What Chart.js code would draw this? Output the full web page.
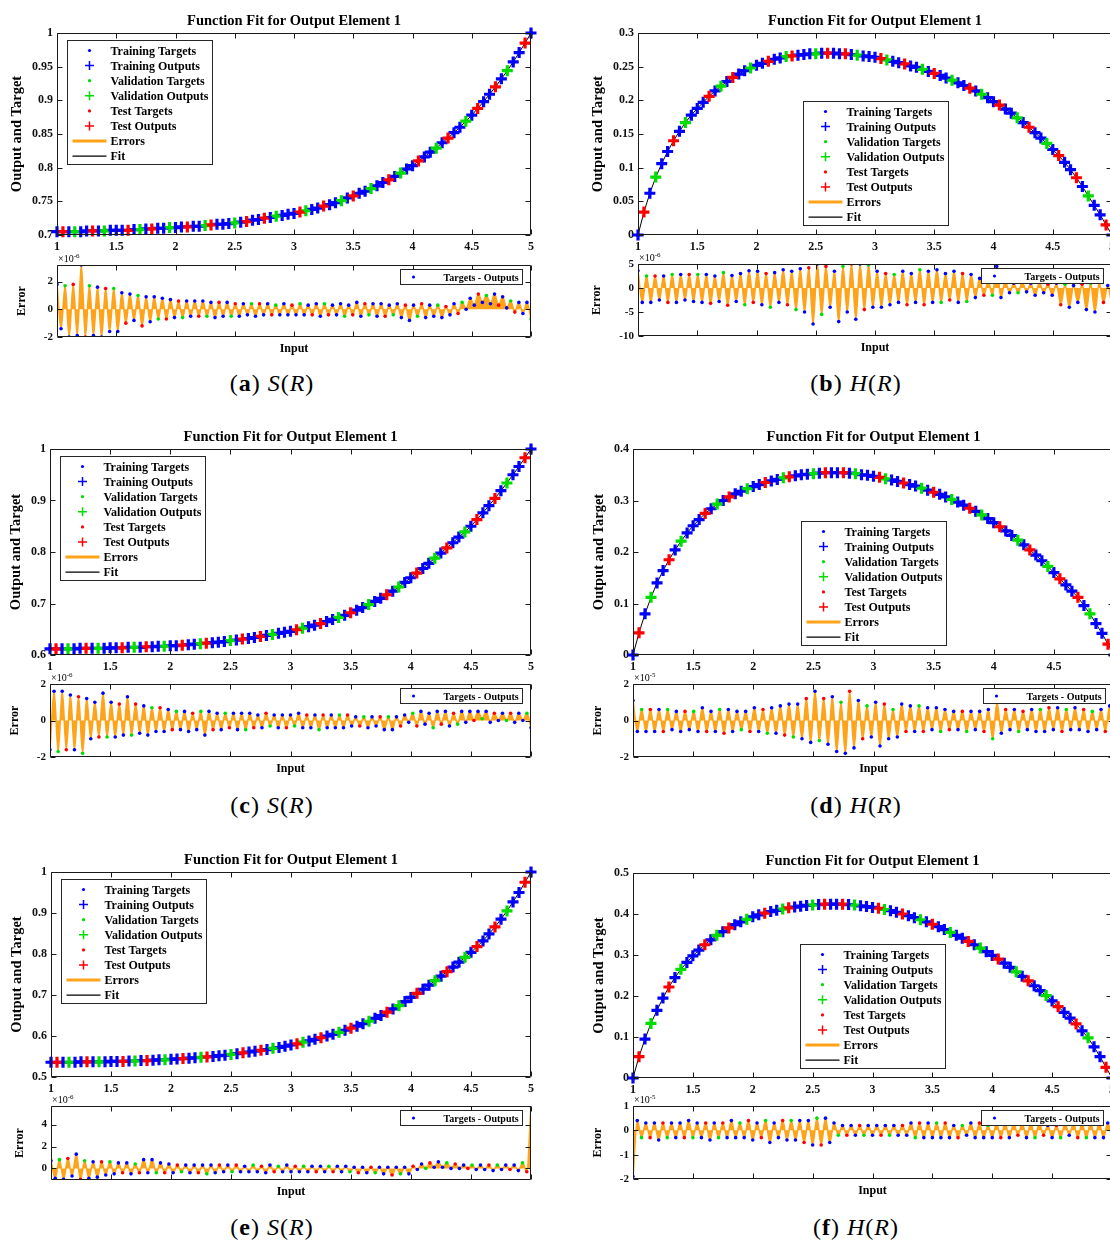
<!DOCTYPE html>
<html lang="en">
<head>
<meta charset="utf-8">
<title>Function Fit for Output Element 1</title>
<script src="https://cdn.jsdelivr.net/npm/chart.js@4.4.1/dist/chart.umd.min.js"></script>
<style>
  html, body { margin: 0; padding: 0; background: #fff; }
  body { position: relative; width: 1110px; height: 1242px; overflow: hidden; }
  canvas { position: absolute; }
  .cap {
    position: absolute; width: 240px; text-align: center;
    font-family: "Liberation Serif", "Times New Roman", serif;
    font-size: 24px; line-height: 30px; letter-spacing: 1px; color: #000;
  }
</style>
</head>
<body>
<script>
// ---------- data ----------
const inputR = [
  1, 1.05, 1.1, 1.15, 1.2, 1.25, 1.3, 1.35, 1.4, 1.45,
  1.5, 1.55, 1.6, 1.65, 1.7, 1.75, 1.8, 1.85, 1.9, 1.95,
  2, 2.05, 2.1, 2.15, 2.2, 2.25, 2.3, 2.35, 2.4, 2.45,
  2.5, 2.55, 2.6, 2.65, 2.7, 2.75, 2.8, 2.85, 2.9, 2.95,
  3, 3.05, 3.1, 3.15, 3.2, 3.25, 3.3, 3.35, 3.4, 3.45,
  3.5, 3.55, 3.6, 3.65, 3.7, 3.75, 3.8, 3.85, 3.9, 3.95,
  4, 4.05, 4.1, 4.15, 4.2, 4.25, 4.3, 4.35, 4.4, 4.45,
  4.5, 4.55, 4.6, 4.65, 4.7, 4.75, 4.8, 4.85, 4.9, 4.95,
  5
];

// T = training, V = validation, S = test
const splitMain = ['TSTVTTSTVT', 'TTSTVTSTTV', 'TTSTTVSTTT', 'VTSTTSTVTT', 'TSVTTSTTVT',
  'STTVTTSTVT', 'TSTTVTSTTV', 'TSTTSTVTTS', 'T'].join('');
const splitErr = 'TTVTSTTSVTTTSTVTTSTTVST';

const sA = [
  0.705, 0.705, 0.705, 0.705, 0.705, 0.706, 0.706, 0.706, 0.706, 0.707,
  0.707, 0.707, 0.707, 0.708, 0.708, 0.709, 0.709, 0.710, 0.710, 0.711,
  0.711, 0.712, 0.712, 0.713, 0.713, 0.714, 0.715, 0.716, 0.716, 0.717,
  0.718, 0.719, 0.720, 0.722, 0.723, 0.725, 0.726, 0.728, 0.729, 0.731,
  0.732, 0.734, 0.736, 0.738, 0.740, 0.743, 0.745, 0.748, 0.751, 0.755,
  0.758, 0.762, 0.765, 0.769, 0.773, 0.778, 0.782, 0.787, 0.792, 0.798,
  0.803, 0.810, 0.816, 0.823, 0.829, 0.837, 0.844, 0.852, 0.860, 0.869,
  0.878, 0.888, 0.898, 0.909, 0.920, 0.932, 0.944, 0.957, 0.971, 0.985,
  1.000
];
const hB = [
  0, 0.034, 0.062, 0.086, 0.106, 0.124, 0.140, 0.154, 0.167, 0.178,
  0.188, 0.197, 0.206, 0.214, 0.221, 0.228, 0.234, 0.239, 0.244, 0.248,
  0.252, 0.255, 0.258, 0.261, 0.263, 0.265, 0.266, 0.267, 0.268, 0.269,
  0.269, 0.270, 0.270, 0.270, 0.269, 0.269, 0.268, 0.267, 0.266, 0.265,
  0.264, 0.262, 0.260, 0.258, 0.256, 0.254, 0.251, 0.249, 0.246, 0.243,
  0.240, 0.237, 0.233, 0.230, 0.226, 0.222, 0.218, 0.214, 0.209, 0.204,
  0.198, 0.193, 0.187, 0.181, 0.174, 0.167, 0.160, 0.152, 0.144, 0.136,
  0.127, 0.118, 0.108, 0.097, 0.085, 0.072, 0.058, 0.044, 0.030, 0.015,
  0
];
const sC = [
  0.612, 0.612, 0.612, 0.612, 0.612, 0.613, 0.613, 0.613, 0.613, 0.613,
  0.614, 0.614, 0.614, 0.615, 0.615, 0.615, 0.616, 0.616, 0.617, 0.617,
  0.618, 0.618, 0.619, 0.620, 0.621, 0.622, 0.623, 0.624, 0.625, 0.626,
  0.628, 0.629, 0.631, 0.632, 0.634, 0.636, 0.638, 0.640, 0.642, 0.644,
  0.646, 0.649, 0.652, 0.655, 0.658, 0.661, 0.665, 0.669, 0.673, 0.677,
  0.682, 0.687, 0.692, 0.698, 0.704, 0.710, 0.717, 0.724, 0.732, 0.741,
  0.750, 0.759, 0.768, 0.778, 0.788, 0.798, 0.808, 0.818, 0.829, 0.839,
  0.850, 0.863, 0.876, 0.890, 0.904, 0.919, 0.934, 0.950, 0.966, 0.983,
  1.000
];
const hD = [
  0, 0.043, 0.080, 0.112, 0.140, 0.164, 0.185, 0.204, 0.221, 0.237,
  0.251, 0.263, 0.275, 0.284, 0.293, 0.300, 0.307, 0.313, 0.318, 0.323,
  0.327, 0.331, 0.335, 0.338, 0.341, 0.344, 0.346, 0.348, 0.350, 0.351,
  0.352, 0.353, 0.354, 0.354, 0.354, 0.354, 0.353, 0.352, 0.350, 0.349,
  0.347, 0.345, 0.342, 0.340, 0.337, 0.334, 0.331, 0.328, 0.324, 0.320,
  0.316, 0.312, 0.307, 0.302, 0.297, 0.291, 0.285, 0.279, 0.272, 0.265,
  0.257, 0.249, 0.241, 0.232, 0.223, 0.214, 0.204, 0.194, 0.183, 0.172,
  0.160, 0.148, 0.136, 0.124, 0.112, 0.096, 0.080, 0.061, 0.042, 0.021,
  0
];
const sE = [
  0.536, 0.536, 0.536, 0.536, 0.536, 0.537, 0.537, 0.537, 0.537, 0.537,
  0.538, 0.538, 0.538, 0.539, 0.539, 0.540, 0.540, 0.541, 0.542, 0.542,
  0.543, 0.544, 0.545, 0.546, 0.547, 0.548, 0.549, 0.550, 0.552, 0.553,
  0.555, 0.557, 0.559, 0.561, 0.563, 0.565, 0.567, 0.570, 0.572, 0.575,
  0.578, 0.581, 0.585, 0.588, 0.592, 0.596, 0.600, 0.604, 0.609, 0.614,
  0.619, 0.624, 0.630, 0.636, 0.643, 0.650, 0.658, 0.666, 0.674, 0.684,
  0.694, 0.704, 0.714, 0.724, 0.735, 0.746, 0.757, 0.768, 0.780, 0.792,
  0.804, 0.818, 0.832, 0.849, 0.866, 0.885, 0.905, 0.927, 0.950, 0.975,
  1.000
];
const hF = [
  0, 0.052, 0.095, 0.133, 0.165, 0.195, 0.222, 0.245, 0.265, 0.282,
  0.298, 0.312, 0.325, 0.337, 0.348, 0.357, 0.366, 0.374, 0.381, 0.387,
  0.393, 0.398, 0.402, 0.406, 0.409, 0.412, 0.415, 0.417, 0.419, 0.421,
  0.422, 0.423, 0.424, 0.424, 0.424, 0.424, 0.423, 0.422, 0.420, 0.418,
  0.416, 0.414, 0.411, 0.408, 0.404, 0.400, 0.396, 0.391, 0.386, 0.381,
  0.375, 0.369, 0.362, 0.355, 0.348, 0.341, 0.333, 0.325, 0.317, 0.308,
  0.299, 0.290, 0.280, 0.270, 0.259, 0.248, 0.237, 0.225, 0.213, 0.201,
  0.188, 0.174, 0.160, 0.146, 0.132, 0.115, 0.098, 0.076, 0.052, 0.026,
  0
];

// error traces: successive peaks / troughs, in units of the axis exponent
const errA = [
  1.8, -1.4, 1.7, -2.0, 1.8, -1.9, 3.2, -2.0, 1.7, -1.9, 1.6, -2.0, 1.5, -1.6, 1.5, -1.6, 1.2, -1.0,
  1.1, -0.8, 1.0, -1.2, 0.9, -0.9, 0.9, -0.7, 0.8, -0.7, 0.7, -0.6, 0.6, -0.6,
  0.6, -0.5, 0.6, -0.5, 0.6, -0.5, 0.5, -0.6, 0.5, -0.5, 0.5, -0.5, 0.4, -0.5,
  0.4, -0.4, 0.4, -0.5, 0.4, -0.4, 0.4, -0.4, 0.3, -0.4, 0.4, -0.4, 0.3, -0.4,
  0.4, -0.4, 0.3, -0.4, 0.4, -0.5, 0.4, -0.4, 0.3, -0.4, 0.4, -0.5, 0.3, -0.4,
  0.5, -0.5, 0.4, -0.4, 0.4, -0.5, 0.4, -0.5, 0.3, -0.4, 0.4, -0.6, 0.3, -0.8,
  0.3, -0.5, 0.4, -0.6, 0.3, -0.5, 0.3, -0.6, 0.2, -0.4, 0.4, -0.3, 0.5, 0.0,
  0.8, 0.3, 1.1, 0.5, 1.0, 0.4, 1.1, 0.3, 0.9, 0.1, 0.6, -0.2, 0.5, -0.3, 0.5, -0.7
];
const errB = [
  3.6, -3.0, 2.5, -3.0, 2.5, -2.5, 2.5, -3.0, 2.8, -3.0, 2.8, -2.5, 2.8, -2.8,
  2.8, -3.0, 2.8, -3.2, 2.5, -2.8, 3.2, -3.6, 2.6, -2.8, 3.0, -3.5, 3.6, -3.0,
  3.5, -3.5, 3.0, -4.0, 3.2, -3.0, 3.8, -3.5, 3.5, -4.5, 4.0, -5.0, 4.2, -7.5,
  5.0, -5.5, 4.5, -4.0, 3.5, -7.0, 4.5, -5.0, 5.0, -6.5, 5.0, -4.5, 4.8, -4.0,
  3.5, -4.0, 3.0, -3.5, 2.8, -3.0, 3.5, -3.5, 3.0, -3.0, 3.8, -3.5, 3.5, -3.0,
  3.8, -3.0, 3.0, -2.5, 3.5, -3.0, 3.0, -2.8, 2.8, -2.0, 2.0, -1.5, 1.5, -1.5,
  4.5, -2.0, 1.5, -1.0, 1.0, -1.0, 1.2, -0.8, 1.0, -1.5, 1.2, -1.0, 0.8, -1.5,
  1.0, -3.5, 0.8, -4.0, 0.5, -3.0, 0.8, -4.5, 1.0, -5.0, 1.2, -3.0, 0.5, -4.0
];
const errC = [
  -1.6, 1.6, -1.7, 1.6, -1.6, 1.4, -1.6, 1.3, -1.8, 1.2, -1.0, 1.0, -0.9, 1.5, -0.9, 1.0, -0.9, 0.9, -0.8,
  1.3, -0.8, 0.9, -0.7, 0.8, -0.8, 0.7, -0.6, 0.7, -0.6, 0.6, -0.5, 0.5, -0.5,
  0.5, -0.6, 0.4, -0.5, 0.5, -0.8, 0.5, -0.5, 0.4, -0.5, 0.4, -0.4, 0.4, -0.5,
  0.4, -0.5, 0.4, -0.4, 0.3, -0.4, 0.4, -0.3, 0.3, -0.4, 0.3, -0.4, 0.3, -0.3,
  0.4, -0.4, 0.3, -0.4, 0.3, -0.5, 0.3, -0.4, 0.3, -0.4, 0.3, -0.4, 0.3, -0.3,
  0.2, -0.3, 0.2, -0.4, 0.2, -0.3, 0.2, -0.5, 0.2, -0.5, 0.2, -0.3, 0.3, -0.1,
  0.4, -0.3, 0.5, -0.2, 0.4, -0.4, 0.5, -0.2, 0.5, -0.3, 0.4, -0.2, 0.5, -0.1,
  0.5, 0.0, 0.5, 0.1, 0.5, -0.1, 0.4, 0.0, 0.4, 0.0, 0.4, -0.1, 0.4, 0.0, 0.4, -0.4
];
const errD = [
  1.1, -0.6, 0.6, -0.6, 0.6, -0.6, 0.6, -0.6, 0.6, -0.5, 0.5, -0.6, 0.5, -0.5,
  0.5, -0.6, 0.7, -0.6, 0.5, -0.6, 0.6, -0.7, 0.6, -0.6, 0.5, -0.5, 0.5, -0.6,
  0.7, -0.6, 0.6, -0.7, 0.7, -0.7, 0.8, -0.8, 0.9, -0.9, 0.9, -1.0, 1.2, -1.2,
  1.6, -1.1, 1.2, -1.3, 1.3, -1.7, 1.0, -1.8, 1.6, -1.5, 1.1, -1.0, 0.8, -0.9,
  1.0, -1.4, 0.9, -1.0, 0.6, -0.9, 0.9, -0.6, 0.8, -0.6, 0.8, -0.6, 0.7, -0.5,
  0.7, -0.6, 0.6, -0.5, 0.5, -0.5, 0.5, -0.6, 0.5, -0.5, 0.5, -0.6, 0.6, -1.0,
  1.0, -0.7, 0.6, -0.5, 0.6, -0.6, 0.5, -0.5, 0.6, -0.6, 0.6, -0.6, 0.7, -0.5,
  0.7, -0.6, 0.6, -0.5, 0.7, -0.5, 0.6, -0.6, 0.5, -0.5, 0.6, -0.6, 0.8, -0.7
];
const errE = [
  0.7, -0.9, 0.8, -1.0, 0.9, -0.7, 1.3, -1.0, 0.7, -0.9, 0.6, -0.8, 0.6, -0.6, 0.6, -0.5,
  0.5, -0.4, 0.5, -0.5, 0.4, -0.4, 0.8, -0.4, 0.8, -0.4, 0.5, -0.4, 0.4, -0.4,
  0.3, -0.3, 0.3, -0.4, 0.3, -0.4, 0.3, -0.5, 0.3, -0.4, 0.3, -0.3, 0.3, -0.3,
  0.3, -0.3, 0.2, -0.3, 0.3, -0.3, 0.2, -0.4, 0.3, -0.3, 0.2, -0.3, 0.3, -0.3,
  0.2, -0.3, 0.2, -0.3, 0.2, -0.3, 0.2, -0.3, 0.2, -0.3, 0.2, -0.3, 0.2, -0.3,
  0.1, -0.4, 0.1, -0.4, 0.1, -0.4, 0.1, -0.5, 0.1, -0.6, 0.1, -0.5, 0.1, -0.5,
  0.2, -0.1, 0.4, 0.0, 0.5, 0.1, 0.6, 0.1, 0.5, 0.0, 0.4, 0.0, 0.3, 0.0,
  0.3, -0.1, 0.3, -0.1, 0.3, -0.2, 0.3, -0.1, 0.3, -0.1, 0.3, -0.2, 0.5, -0.3, 5.7
];
const errF = [
  -1.9,
  0.4, -0.3, 0.3, -0.3, 0.3, -0.4, 0.3, -0.3, 0.3, -0.3, 0.3, -0.3, 0.4, -0.3,
  0.3, -0.3, 0.3, -0.4, 0.3, -0.3, 0.3, -0.3, 0.4, -0.3, 0.3, -0.3, 0.4, -0.4,
  0.3, -0.3, 0.4, -0.5, 0.3, -0.3, 0.4, -0.4, 0.4, -0.4, 0.4, -0.5, 0.4, -0.6,
  0.5, -0.6, 0.5, -0.5, 0.3, -0.2, 0.2, -0.2, 0.2, -0.2, 0.2, -0.2, 0.2, -0.2,
  0.2, -0.2, 0.2, -0.2, 0.2, -0.2, 0.2, -0.2, 0.3, -0.3, 0.3, -0.3, 0.3, -0.3,
  0.3, -0.3, 0.3, -0.3, 0.2, -0.3, 0.2, -0.2, 0.3, -0.3, 0.3, -0.3, 0.2, -0.3,
  0.3, -0.3, 0.3, -0.3, 0.3, -0.2, 0.3, -0.3, 0.3, -0.3, 0.3, -0.2, 0.2, -0.3,
  0.2, -0.3, 0.3, -0.2, 0.3, -0.3, 0.3, -0.3, 0.3, -0.3, 0.3, -0.3, 0.3, -0.3
];

const xTickVals = [1, 1.5, 2, 2.5, 3, 3.5, 4, 4.5, 5];
const yTicksA = [0.7, 0.75, 0.8, 0.85, 0.9, 0.95, 1];
const yTicksB = [0, 0.05, 0.1, 0.15, 0.2, 0.25, 0.3];
const yTicksC = [0.6, 0.7, 0.8, 0.9, 1];
const yTicksD = [0, 0.1, 0.2, 0.3, 0.4];
const yTicksE = [0.5, 0.6, 0.7, 0.8, 0.9, 1];
const yTicksF = [0, 0.1, 0.2, 0.3, 0.4, 0.5];

const errTicksA = [-2, 0, 2];
const errTicksB = [-10, -5, 0, 5];
const errTicksC = [-2, 0, 2];
const errTicksD = [-2, 0, 2];
const errTicksE = [0, 2, 4];
const errTicksF = [-2, -1, 0, 1];
const errLimits = [[-2, 3.2], [-10, 5], [-2, 2], [-2, 2], [-1.06, 5.7], [-2, 1]];
const errExponent = ['-6', '-6', '-6', '-5', '-6', '-5'];

const curves = [sA, hB, sC, hD, sE, hF];
const curveTicks = [yTicksA, yTicksB, yTicksC, yTicksD, yTicksE, yTicksF];
const errSeries = [errA, errB, errC, errD, errE, errF];
const errTicks = [errTicksA, errTicksB, errTicksC, errTicksD, errTicksE, errTicksF];
const capLetter = ['a', 'b', 'c', 'd', 'e', 'f'];
const capFunc = ['S', 'H', 'S', 'H', 'S', 'H'];

// ---------- layout (page pixels: left, top, right, bottom of each plot box) ----------
const mainBoxes = [[57, 33, 531, 235], [638, 33, 1112, 235], [50, 449, 531, 655],
                   [633, 449, 1114, 655], [51, 872, 531, 1077], [633, 873, 1112, 1078]];
const errBoxes = [[57, 265, 531, 337], [638, 264, 1112, 336], [50, 684, 531, 757],
                  [633, 684, 1114, 757], [51, 1106, 531, 1180], [633, 1106, 1112, 1179]];
const legendLoc = ['nw', 's', 'nw', 's', 'nw', 's'];
const capPos = [[272, 383], [856, 383], [272, 805], [856, 805], [272, 1227], [856, 1227]];
const MAIN_M = { l: 50, t: 30, r: 20, b: 24 };
const ERR_M = { l: 50, t: 14, r: 20, b: 24 };

const SERIF = '"Liberation Serif", "Times New Roman", serif';
const ORANGE = '#ffa31a';
const colorOf = { T: '#0000ff', V: '#00dd00', S: '#ff0000' };
const num = v => String(Math.round(v * 1000) / 1000);

// MATLAB-like box, inward ticks, titles and legend
const framePlugin = {
  id: 'frame',
  afterDatasetsDraw(chart, args, o) {
    const { ctx, chartArea: a, scales } = chart;
    const L = Math.round(a.left) + 0.5, T = Math.round(a.top) + 0.5;
    const R = Math.round(a.right) - 0.5, B = Math.round(a.bottom) - 0.5;
    const tl = o.tickLen;
    ctx.save();
    ctx.strokeStyle = '#1a1a1a';
    ctx.lineWidth = 1;
    ctx.beginPath();
    scales.x.ticks.forEach(t => {
      const px = Math.round(scales.x.getPixelForValue(t.value)) + 0.5;
      ctx.moveTo(px, B); ctx.lineTo(px, B - tl);
      ctx.moveTo(px, T); ctx.lineTo(px, T + tl);
    });
    scales.y.ticks.forEach(t => {
      const py = Math.round(scales.y.getPixelForValue(t.value)) + 0.5;
      ctx.moveTo(L, py); ctx.lineTo(L + tl, py);
      ctx.moveTo(R, py); ctx.lineTo(R - tl, py);
    });
    ctx.rect(L, T, R - L, B - T);
    ctx.stroke();
    ctx.restore();
  },
  afterDraw(chart, args, o) {
    const { ctx, chartArea: a, scales } = chart;
    const cx = (a.left + a.right) / 2, cy = (a.top + a.bottom) / 2;
    ctx.save();
    ctx.fillStyle = '#000';
    ctx.textAlign = 'center';
    ctx.textBaseline = 'middle';
    if (o.title) {
      ctx.font = `bold 14.5px ${SERIF}`;
      ctx.fillText(o.title, cx, a.top - 12);
    }
    if (o.xlabel) {
      ctx.font = `bold 12px ${SERIF}`;
      ctx.fillText(o.xlabel, cx, a.bottom + 12);
    }
    ctx.font = `bold ${o.tickSize}px ${SERIF}`;
    const tw = Math.max(...scales.y.ticks.map(t => ctx.measureText(String(t.label)).width));
    ctx.save();
    ctx.font = `bold ${o.ylabelSize}px ${SERIF}`;
    ctx.translate(a.left - 4 - tw - o.ylabelGap, cy);
    ctx.rotate(-Math.PI / 2);
    ctx.fillText(o.ylabel, 0, 0);
    ctx.restore();
    if (o.exp) {
      ctx.textAlign = 'left';
      ctx.textBaseline = 'alphabetic';
      ctx.font = `10px ${SERIF}`;
      const base = '\u00d710';
      ctx.fillText(base, a.left + 1, a.top - 3);
      const bw = ctx.measureText(base).width;
      ctx.font = `7px ${SERIF}`;
      ctx.fillText(o.exp, a.left + 1 + bw, a.top - 7);
    }
    drawLegend(chart, o.legend);
    ctx.restore();
  }
};

function drawLegend(chart, lg) {
  const { ctx, chartArea: a } = chart;
  const items = chart.data.datasets.filter(d => d.mark);
  let x0, y0;
  if (lg.loc === 'nw') { x0 = a.left + 10; y0 = a.top + 7; }
  else if (lg.loc === 's') { x0 = (a.left + a.right) / 2 - lg.w / 2; y0 = a.bottom - 10 - lg.h; }
  else { x0 = a.right - 9 - lg.w; y0 = a.top + 4; }
  x0 = Math.round(x0) + 0.5;
  y0 = Math.round(y0) + 0.5;
  ctx.fillStyle = '#fff';
  ctx.fillRect(x0, y0, lg.w, lg.h);
  ctx.strokeStyle = '#262626';
  ctx.lineWidth = 1;
  ctx.strokeRect(x0, y0, lg.w, lg.h);
  ctx.font = `bold ${lg.size}px ${SERIF}`;
  ctx.textAlign = 'left';
  ctx.textBaseline = 'middle';
  items.forEach((d, i) => {
    const y = y0 + lg.first + i * lg.row;
    const mx = x0 + lg.markX;
    if (d.mark === 'dot') {
      ctx.fillStyle = d.markColor;
      ctx.beginPath();
      ctx.arc(mx, y, 1.6, 0, Math.PI * 2);
      ctx.fill();
    } else if (d.mark === 'cross') {
      ctx.strokeStyle = d.markColor;
      ctx.lineWidth = 1.5;
      ctx.beginPath();
      ctx.moveTo(mx - 4.5, y); ctx.lineTo(mx + 4.5, y);
      ctx.moveTo(mx, y - 4.5); ctx.lineTo(mx, y + 4.5);
      ctx.stroke();
    } else {
      ctx.strokeStyle = d.markColor;
      ctx.lineWidth = d.markWidth;
      ctx.beginPath();
      ctx.moveTo(x0 + 5, y); ctx.lineTo(x0 + lg.textX - 4, y);
      ctx.stroke();
    }
    ctx.fillStyle = '#000';
    ctx.fillText(d.label, x0 + lg.textX, y + 1);
  });
}

function addCanvas(box, m) {
  const [L, T, R, B] = box;
  const c = document.createElement('canvas');
  const w = R - L + m.l + m.r, h = B - T + m.t + m.b;
  c.width = w; c.height = h;
  c.style.left = (L - m.l) + 'px';
  c.style.top = (T - m.t) + 'px';
  c.style.width = w + 'px';
  c.style.height = h + 'px';
  document.body.appendChild(c);
  return c;
}

function axis(ticks, min, max, showLabels, size, pad, fitKey, fitVal) {
  return {
    type: 'linear', min, max,
    grid: { display: false, drawTicks: false },
    border: { display: false },
    afterBuildTicks: s => { s.ticks = ticks.map(v => ({ value: v })); },
    afterFit: s => { s[fitKey] = fitVal; },
    ticks: {
      display: showLabels, autoSkip: false, maxRotation: 0, padding: pad, color: '#111',
      font: { family: SERIF, size, weight: 'bold' }, callback: num
    }
  };
}

function mainSets(ys) {
  const sets = [];
  [['T', 'Training'], ['V', 'Validation'], ['S', 'Test']].forEach(([code, name], gi) => {
    const pts = [];
    inputR.forEach((x, i) => {
      if (splitMain[i % splitMain.length] === code) pts.push({ x, y: ys[i] });
    });
    sets.push({
      label: name + ' Targets', data: pts, mark: 'dot', markColor: colorOf[code],
      pointStyle: 'circle', pointRadius: 2, backgroundColor: colorOf[code],
      borderWidth: 0, order: 3 - gi, clip: false
    });
    sets.push({
      label: name + ' Outputs', data: pts, mark: 'cross', markColor: colorOf[code],
      pointStyle: 'cross', pointRadius: 5.5, borderColor: colorOf[code],
      borderWidth: 3.2, order: 6 - gi, clip: false
    });
  });
  sets.push({ label: 'Errors', data: [], mark: 'line', markColor: ORANGE, markWidth: 3 });
  sets.push({
    label: 'Fit', data: inputR.map((x, i) => ({ x, y: ys[i] })), mark: 'line', markColor: '#000',
    markWidth: 1.2, showLine: true, borderColor: '#000', borderWidth: 1, pointRadius: 0, order: 10
  });
  return sets;
}

function errSets(es) {
  const pts = es.map((v, i) => ({ x: 1 + 4 * i / (es.length - 1), y: v }));
  const cols = es.map((v, i) => colorOf[splitErr[i % splitErr.length]]);
  return [
    {
      label: 'Targets - Outputs', data: pts, mark: 'dot', markColor: colorOf.T,
      pointRadius: 1.8, pointBackgroundColor: cols, pointBorderWidth: 0, order: 1
    },
    {
      label: 'Errors', data: pts, showLine: true, tension: 0.4, cubicInterpolationMode: 'monotone',
      borderColor: ORANGE, borderWidth: 1.6, backgroundColor: ORANGE, fill: 'origin',
      pointRadius: 0, order: 2
    }
  ];
}

const base = { responsive: false, animation: false, devicePixelRatio: 1, events: [] };

for (let p = 0; p < 6; p++) {
  const yt = curveTicks[p];
  new Chart(addCanvas(mainBoxes[p], MAIN_M), {
    type: 'scatter',
    data: { datasets: mainSets(curves[p]) },
    options: {
      ...base,
      layout: { padding: { top: MAIN_M.t, right: MAIN_M.r, left: 0, bottom: 0 } },
      plugins: {
        legend: { display: false }, tooltip: { enabled: false },
        frame: {
          title: 'Function Fit for Output Element 1', ylabel: 'Output and Target',
          tickSize: 12, ylabelSize: 14.5, ylabelGap: 15, tickLen: 5,
          legend: { loc: legendLoc[p], w: 145, h: 124, first: 10, row: 15.1, markX: 22, textX: 43, size: 12 }
        }
      },
      scales: {
        x: axis(xTickVals, 1, 5, true, 12, 5, 'height', MAIN_M.b),
        y: axis(yt, yt[0], yt[yt.length - 1], true, 12, 4, 'width', MAIN_M.l)
      }
    },
    plugins: [framePlugin]
  });

  const lim = errLimits[p];
  new Chart(addCanvas(errBoxes[p], ERR_M), {
    type: 'scatter',
    data: { datasets: errSets(errSeries[p]) },
    options: {
      ...base,
      layout: { padding: { top: ERR_M.t, right: ERR_M.r, left: 0, bottom: 0 } },
      plugins: {
        legend: { display: false }, tooltip: { enabled: false },
        frame: {
          xlabel: 'Input', ylabel: 'Error', exp: errExponent[p],
          tickSize: 11, ylabelSize: 12, ylabelGap: 22, tickLen: 5,
          legend: { loc: 'ne', w: 122, h: 15, first: 7.5, row: 0, markX: 13, textX: 43, size: 10 }
        }
      },
      scales: {
        x: axis(xTickVals, 1, 5, false, 11, 5, 'height', ERR_M.b),
        y: axis(errTicks[p], lim[0], lim[1], true, 11, 4, 'width', ERR_M.l)
      }
    },
    plugins: [framePlugin]
  });

  const cap = document.createElement('div');
  cap.className = 'cap';
  cap.style.left = (capPos[p][0] - 120) + 'px';
  cap.style.top = (capPos[p][1] - 15) + 'px';
  cap.innerHTML = '(<b>' + capLetter[p] + '</b>) <i>' + capFunc[p] + '</i>(<i>R</i>)';
  document.body.appendChild(cap);
}
</script>
</body>
</html>
